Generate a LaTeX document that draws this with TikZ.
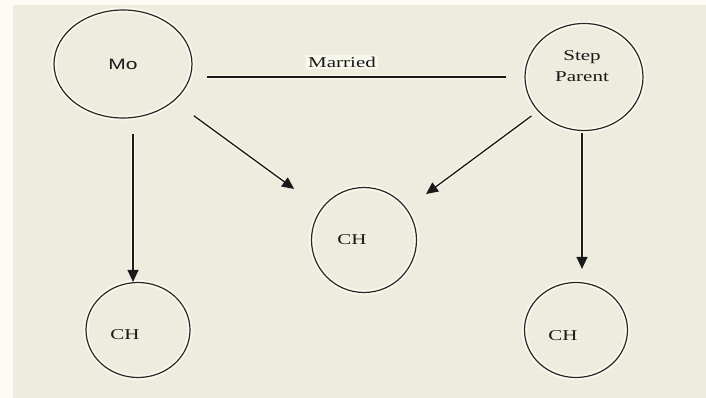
\documentclass[tikz,border=0pt]{standalone}
\usepackage{graphicx}
\usepackage{fontspec}
\setmainfont{Liberation Serif}
\newfontfamily\namesans{Liberation Sans}
\usetikzlibrary{arrows.meta,calc,shapes.geometric}

\definecolor{paper}{RGB}{237,236,223}
\definecolor{margin}{RGB}{252,252,244}
\definecolor{halo}{RGB}{249,248,237}
\definecolor{rim}{RGB}{40,40,40}
\definecolor{ink}{RGB}{25,25,25}

% wide lettering
\newcommand\wide[1]{\scalebox{1.4}[1]{#1}}

\tikzset{
  person/.style={ellipse, inner sep=0pt,
    preaction={draw=halo, line width=5pt},
    draw=rim, line width=1.2pt},
  lbl/.style={inner sep=0pt, text=ink, font=\fontsize{15}{21}\selectfont},
  link/.style={draw=ink, line width=1.3pt,
    preaction={draw=halo, line width=4pt}},
  arrow/.style={link, -{Triangle[length=12pt,width=11pt]}},
}

\begin{document}
\begin{tikzpicture}[x=1pt, y=-1pt]
  % sheet and textured panel
  \fill[margin] (0,0) rectangle (706,398);
  \fill[paper] (13,5) rectangle (706,398);
  \useasboundingbox (0,0) rectangle (706,398);

  % people
  \node[person, minimum width=138pt, minimum height=108pt] (mo) at (123,64) {};
  \node[person, minimum width=118pt, minimum height=107pt] (step) at (584,77) {};
  \node[person, minimum width=105pt, minimum height=105pt] (chm) at (364,240) {};
  \node[person, minimum width=104pt, minimum height=95pt] (chl) at (138,330) {};
  \node[person, minimum width=103pt, minimum height=95pt] (chr) at (576,330) {};

  % names
  \node[lbl, font=\namesans\fontsize{15}{21}\selectfont] (tmo) at (mo) {\wide{Mo}};
  \node[lbl, align=center] (tstep) at ($(step)+(-2,-11)$) {\wide{Step}\\\wide{Parent}};
  \node[lbl] (tchm) at ($(chm)+(-12,0)$) {\wide{CH}};
  \node[lbl] (tchl) at ($(chl)+(-13,5)$) {\wide{CH}};
  \node[lbl] (tchr) at ($(chr)+(-13,6)$) {\wide{CH}};

  % marriage
  \draw[link] ($(mo.east)+(14,13)$) -- ($(step.west)+(-18,0)$);
  \node[lbl, fill=halo, inner sep=2pt] (tmar) at (342,62) {\wide{Married}};

  % parent-to-child arrows
  \draw[arrow] ($(mo)!0.294!(chm)$) -- ($(mo)!0.71!(chm)$);
  \draw[arrow] ($(step)!0.239!(chm)$) -- ($(step)!0.718!(chm)$);
  \draw[arrow] ([xshift=10pt,yshift=-15pt]mo.south) -- ([xshift=-5pt]chl.north);
  \draw[arrow] ([xshift=-2pt,yshift=-2pt]step.south) -- ([xshift=6pt,yshift=13pt]chr.north);
\end{tikzpicture}
\end{document}
